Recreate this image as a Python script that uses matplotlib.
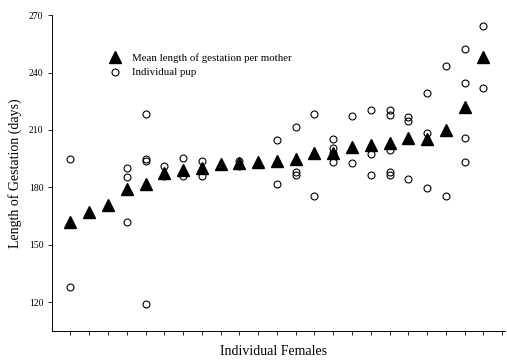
import matplotlib.pyplot as plt
import numpy as np

# mean length of gestation for each female (days)
females = list(range(1, 24))
mean_gestation = [162, 167, 171, 179, 182, 187.5, 189, 190, 192, 192.5, 193, 193.5,
                  195, 198, 198, 201, 202, 203, 206, 205.5, 210, 222, 248]

# individual pups: female index and gestation length
pup_female = [1, 1,
              4, 4, 4,
              5, 5, 5, 5,
              6, 6,
              7, 7,
              8, 8,
              10, 10,
              12, 12,
              13, 13, 13,
              14, 14,
              15, 15, 15, 15,
              16, 16,
              17, 17, 17,
              18, 18, 18, 18, 18,
              19, 19, 19,
              20, 20, 20,
              21, 21,
              22, 22, 22, 22,
              23, 23]
pup_gestation = [195, 128,
                 190, 185.5, 162,
                 218.5, 195, 193.5, 119,
                 191, 186,
                 195.5, 186,
                 193.5, 186,
                 191, 193.5,
                 204.5, 181.5,
                 211.5, 188, 186.5,
                 218.5, 175.5,
                 205.5, 200.5, 198, 193,
                 217.5, 192.5,
                 220.5, 197.5, 186.5,
                 220.5, 218, 199.5, 188, 186.5,
                 216.5, 214.5, 184.5,
                 229.5, 208.5, 179.5,
                 243.5, 175.5,
                 252.5, 234.5, 206, 193,
                 264.5, 232]

plt.rcParams['font.family'] = ['Liberation Serif', 'DejaVu Serif']

fig = plt.figure(figsize=(5.07, 3.6), dpi=100)
ax = fig.add_axes([0.102, 0.081, 0.894, 0.877])

ax.plot(pup_female, pup_gestation, linestyle='none', marker='o', markersize=5,
        markerfacecolor='none', markeredgecolor='black', markeredgewidth=0.8,
        label='Individual pup', zorder=3)
ax.plot(females, mean_gestation, linestyle='none', marker='^', markersize=8.5,
        color='black', label='Mean length of gestation per mother', zorder=2)

ax.set_xlim(0, 24.15)
ax.set_ylim(105, 270)
ax.set_xticks(np.arange(1, 25))
ax.set_xticklabels([])
ax.set_yticks([120, 150, 180, 210, 240, 270])
ax.tick_params(axis='y', labelsize=7, length=3, width=0.6, pad=3)
ax.tick_params(axis='x', length=3, width=0.6)
for side in ['top', 'right']:
    ax.spines[side].set_visible(False)
ax.spines['left'].set_linewidth(0.7)
ax.spines['bottom'].set_linewidth(0.7)

ax.set_ylabel('Length of Gestation (days)', fontsize=10, labelpad=5)
ax.set_xlabel('Individual Females', fontsize=10, va='center')
ax.xaxis.set_label_coords(0.49, -0.066)

handles, labels = ax.get_legend_handles_labels()
ax.legend(handles[::-1], labels[::-1], loc='upper left', bbox_to_anchor=(0.1, 0.91),
          frameon=False, fontsize=7.8, handletextpad=0.8, labelspacing=0.45,
          handlelength=1.5)

plt.savefig('out.png', dpi=100)
